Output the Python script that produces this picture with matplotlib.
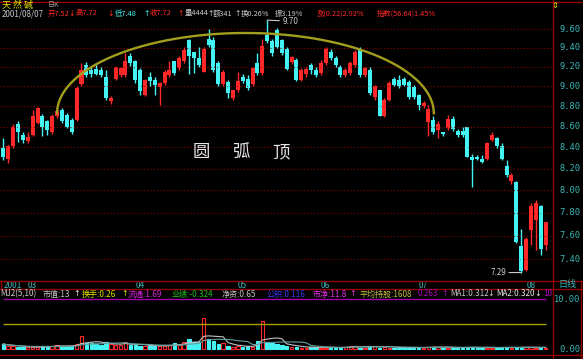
import numpy as np
import pandas as pd
import matplotlib
matplotlib.use('Agg')
import matplotlib.pyplot as plt
from matplotlib.lines import Line2D

plt.rcParams['font.family'] = ['Noto Sans CJK SC', 'DejaVu Sans']

###############################################################################
# data (daily candles, 2001-02 .. 2001-08-07)
opens = [8.39, 8.29, 8.41, 8.62, 8.52, 8.46, 8.52, 8.63, 8.70, 8.65,
         8.55, 8.70, 8.76, 8.71, 8.66, 8.66, 9.02, 9.22, 9.17, 9.18,
         9.17, 9.10, 8.85, 9.08, 9.12, 9.12, 9.31, 9.26, 9.17, 8.91,
         9.10, 9.06, 8.99, 9.03, 9.12, 9.26, 9.19, 9.26, 9.48, 9.36,
         9.29, 9.15, 9.50, 9.48, 9.24, 9.02, 9.04, 8.88, 8.96, 9.10,
         9.08, 9.02, 9.24, 9.14, 9.54, 9.47, 9.59, 9.48, 9.39, 9.25,
         9.27, 9.06, 9.13, 9.22, 9.17, 9.14, 9.24, 9.36, 9.29, 9.20,
         9.12, 9.14, 9.22, 9.39, 9.12, 9.17, 8.89, 8.96, 8.70, 8.86,
         9.08, 9.06, 9.08, 9.04, 8.99, 8.91, 8.80, 8.64, 8.66, 8.57,
         8.55, 8.59, 8.67, 8.56, 8.56, 8.60, 8.31, 8.31, 8.29, 8.29,
         8.47, 8.49, 8.41, 8.22, 8.09, 8.08, 7.51, 7.31, 7.65, 7.74,
         7.86, 7.52]
highs = [8.49, 8.42, 8.62, 8.65, 8.55, 8.55, 8.76, 8.79, 8.72, 8.66,
         8.72, 8.78, 8.78, 8.73, 8.68, 9.00, 9.24, 9.25, 9.20, 9.24,
         9.20, 9.17, 8.90, 9.20, 9.20, 9.35, 9.35, 9.27, 9.19, 9.08,
         9.15, 9.10, 9.04, 9.17, 9.26, 9.26, 9.31, 9.41, 9.50, 9.36,
         9.41, 9.41, 9.60, 9.52, 9.26, 9.17, 9.06, 8.96, 9.15, 9.13,
         9.12, 9.20, 9.35, 9.49, 9.70, 9.49, 9.61, 9.50, 9.41, 9.31,
         9.29, 9.19, 9.20, 9.24, 9.20, 9.27, 9.41, 9.39, 9.31, 9.22,
         9.19, 9.26, 9.38, 9.41, 9.20, 9.20, 9.01, 8.96, 8.88, 9.05,
         9.10, 9.12, 9.10, 9.06, 9.01, 8.92, 8.85, 8.81, 8.70, 8.65,
         8.55, 8.71, 8.70, 8.58, 8.60, 8.60, 8.34, 8.33, 8.33, 8.45,
         8.55, 8.50, 8.44, 8.28, 8.16, 8.09, 7.66, 7.59, 7.89, 7.91,
         7.87, 7.72]
lows = [8.28, 8.25, 8.39, 8.45, 8.44, 8.44, 8.51, 8.62, 8.51, 8.52,
        8.53, 8.68, 8.63, 8.59, 8.53, 8.65, 9.00, 9.10, 9.10, 9.12,
        9.10, 8.86, 8.82, 9.06, 9.10, 9.10, 9.21, 9.03, 8.91, 8.90,
        9.00, 8.91, 8.81, 9.01, 9.10, 9.12, 9.17, 9.24, 9.13, 9.14,
        9.20, 9.15, 9.41, 9.15, 9.00, 9.00, 8.88, 8.86, 8.94, 9.03,
        8.96, 9.00, 9.12, 9.12, 9.45, 9.31, 9.40, 9.33, 9.17, 9.23,
        9.05, 9.05, 9.10, 9.13, 9.10, 9.12, 9.22, 9.27, 9.20, 9.10,
        9.10, 9.12, 9.20, 9.10, 9.10, 8.91, 8.86, 8.70, 8.69, 8.85,
        9.00, 8.98, 9.00, 8.87, 8.87, 8.76, 8.78, 8.51, 8.53, 8.49,
        8.51, 8.57, 8.56, 8.50, 8.50, 8.31, 8.03, 8.28, 8.25, 8.28,
        8.46, 8.39, 8.28, 8.12, 8.06, 7.54, 7.29, 7.30, 7.52, 7.48,
        7.44, 7.48]
closes = [8.31, 8.41, 8.60, 8.55, 8.47, 8.50, 8.70, 8.78, 8.60, 8.57,
          8.70, 8.75, 8.65, 8.60, 8.55, 8.98, 9.17, 9.12, 9.13, 9.13,
          9.12, 8.88, 8.88, 9.20, 9.19, 9.26, 9.24, 9.06, 8.95, 9.06,
          9.05, 9.01, 9.03, 9.15, 9.17, 9.14, 9.29, 9.38, 9.31, 9.29,
          9.22, 9.39, 9.43, 9.17, 9.02, 9.15, 8.93, 8.96, 9.05, 9.05,
          8.98, 9.19, 9.14, 9.42, 9.47, 9.35, 9.41, 9.35, 9.18, 9.30,
          9.06, 9.17, 9.18, 9.17, 9.12, 9.24, 9.39, 9.29, 9.22, 9.12,
          9.17, 9.24, 9.36, 9.12, 9.19, 8.93, 9.00, 8.70, 8.86, 9.03,
          9.01, 9.00, 9.01, 8.89, 8.89, 8.81, 8.83, 8.77, 8.55, 8.62,
          8.53, 8.67, 8.58, 8.52, 8.52, 8.31, 8.28, 8.29, 8.26, 8.44,
          8.52, 8.41, 8.29, 8.14, 8.14, 7.55, 7.30, 7.57, 7.86, 7.89,
          7.49, 7.72]
# MJ2 turnover (%)
vols = [1.00, 0.67, 0.55, 0.40, 0.33, 0.33, 0.35, 0.50, 0.53, 0.53,
        0.65, 0.80, 0.55, 0.53, 0.65, 1.00, 2.70, 1.30, 1.20, 1.00,
        0.80, 1.45, 1.00, 0.80, 0.80, 1.45, 0.80, 0.80, 0.70, 0.65,
        0.55, 0.65, 0.65, 0.70, 0.80, 1.30, 0.80, 1.45, 2.00, 1.35,
        1.50, 6.30, 2.00, 1.67, 1.00, 1.20, 0.55, 0.50, 0.55, 0.50,
        0.55, 0.50, 1.67, 5.70, 1.47, 1.20, 1.00, 0.85, 0.67, 0.50,
        0.35, 0.30, 0.28, 0.40, 0.45, 0.28, 0.30, 0.30, 0.28, 0.30,
        0.45, 0.55, 0.65, 0.30, 0.30, 0.60, 0.65, 0.30, 0.45, 0.30,
        0.30, 0.25, 0.28, 0.30, 0.30, 0.28, 0.30, 0.45, 0.50, 0.40,
        0.30, 0.30, 0.28, 0.30, 0.25, 0.35, 0.45, 0.30, 0.28, 0.30,
        0.30, 0.28, 0.31, 0.36, 0.29, 0.33, 0.35, 0.45, 0.33, 0.25,
        0.27, 0.263]

price_grid = [7.40, 7.60, 7.80, 8.00, 8.20, 8.40, 8.60, 8.80, 9.00, 9.20, 9.40, 9.60]
month_labels = ['2001', '03', '04', '05', '06', '07', '08']
month_pos = [0, 5, 27, 48, 65, 85, 107]
vol_refs = [5, 10]
vol_labels = [10, 0]

# rounded-top arc drawn over the chart
arc_start, arc_end = 11.0, 88.1
arc_base, arc_top = 8.73, 9.56

###############################################################################
W, H = 583, 359
RED = '#ff2828'
CYAN = '#44f4f4'
GRID = '#8c0000'
TEAL = '#3cb8b8'
GRAY = '#c8c8c8'


def fx(x):
    return x / W


def fy(y):
    return 1 - y / H


fig = plt.figure(figsize=(W / 100, H / 100), dpi=100, facecolor='black')
ax = fig.add_axes([0, fy(281), fx(553), (281 - 3) / H])
axv = fig.add_axes([0, fy(355), fx(553), (355 - 289) / H])

n = len(closes)
x = np.arange(n)
o = np.array(opens)
c = np.array(closes)
up = c >= o
colors = np.where(up, RED, CYAN)

for a in (ax, axv):
    a.set_facecolor('black')
    for s in a.spines.values():
        s.set_visible(False)
    a.set_xlim(-0.68, n + 0.5)

ax.set_yscale('log')
ax.set_ylim(7.2207, 9.890)
axv.set_ylim(-1.2, 12)
for a in (ax, axv):
    a.tick_params(which='both', left=False, bottom=False,
                  labelleft=False, labelbottom=False)

# price grid + right labels
for lv in price_grid:
    ax.axhline(lv, color=GRID, lw=0.8, ls=(0, (1, 2)))
    ax.text(580 / 553, lv, '%.2f' % lv, transform=ax.get_yaxis_transform(),
            ha='right', va='center', color=TEAL, fontsize=6.3,
            family='DejaVu Sans Mono', clip_on=False)

# candles
ax.vlines(x, lows, highs, colors=colors, lw=1)
body_h = np.maximum(np.abs(c - o), 0.012)
ax.bar(x, body_h, bottom=np.minimum(o, c), width=0.82, color=colors, linewidth=0)

# arc
t = np.linspace(np.pi, 0, 200)
xs = (arc_start + arc_end) / 2 + (arc_end - arc_start) / 2 * np.cos(t)
ys = np.exp(np.log(arc_base) + np.log(arc_top / arc_base) * np.sin(t))
ax.plot(xs, ys, color='#a29e1e', lw=1.7)

# high / low markers
i_hi = int(np.argmax(highs))
i_lo = int(np.argmin(lows))
ax.annotate('%.2f' % highs[i_hi], xy=(i_hi, highs[i_hi]), xytext=(15, -1),
            textcoords='offset pixels', ha='left', va='center', color=GRAY,
            fontsize=5.8, arrowprops=dict(arrowstyle='-', color=GRAY, lw=0.8,
                                          shrinkA=0, shrinkB=0))
ax.annotate('%.2f' % lows[i_lo], xy=(i_lo, lows[i_lo]), xytext=(-15, 0),
            textcoords='offset pixels', ha='right', va='center', color=GRAY,
            fontsize=5.8, arrowprops=dict(arrowstyle='-', color=GRAY, lw=0.8,
                                          shrinkA=0, shrinkB=0))

for px, ch in [(201.5, '圆'), (241, '弧'), (280.5, '顶')]:
    fig.text(fx(px), fy(152), ch, color='#e6e6e6', fontsize=12.5,
             ha='center', va='center')

# month labels in the date strip
for lab, pos in zip(month_labels, month_pos):
    ax.text(pos, -4 / 278, lab, transform=ax.get_xaxis_transform(),
            ha='left', va='center', color=TEAL, fontsize=6, clip_on=False)
fig.text(fx(567), fy(285), '日线', color=TEAL, fontsize=6.5,
         ha='center', va='center')

# volume (turnover) panel
axv.bar(x, vols, width=0.7, facecolor=np.where(up, 'black', CYAN),
        edgecolor=colors, linewidth=0.8)
vs = pd.Series(vols)
axv.plot(x, vs.rolling(5, min_periods=1).mean(), color='#c0c0c0', lw=0.8)
axv.plot(x, vs.rolling(10, min_periods=1).mean(), color='#5f9f9f', lw=0.8)
axv.hlines(vol_refs, 0, n - 1, colors=['#a8a000', '#a000a8'], lw=1)
for v in vol_labels:
    axv.text(580 / 553, v, '%.2f' % v, transform=axv.get_yaxis_transform(),
             ha='right', va='center', color=TEAL, fontsize=6.3,
             family='DejaVu Sans Mono', clip_on=False)

# frame lines
frame = [((0, 583), (2, 2)), ((0, 583), (281, 281)), ((0, 583), (289, 289)),
         ((0, 583), (355, 355)), ((553, 553), (0, 359)),
         ((581, 581), (281, 359)), ((1, 1), (281, 289))]
for (x0, x1), (y0, y1) in frame:
    fig.add_artist(Line2D([fx(x0), fx(x1)], [fy(y0), fy(y1)],
                          transform=fig.transFigure, color='#900000', lw=1))

# header lines
fig.text(fx(2), fy(5), '天 然 碱', color='#e8e800', fontsize=6.5, va='center')
fig.text(fx(48), fy(5), '日K', color='#a0a0a0', fontsize=5, va='center')
fig.text(fx(555), fy(5), '⇕', color='#e8e800', fontsize=6, ha='center',
         va='center', family='DejaVu Sans')
top_row = [(2, '2001/08/07', GRAY), (48, '开7.52', RED), (76, '高7.72', RED),
           (115, '低7.48', CYAN), (150, '收7.72', RED), (185, '量4444', GRAY),
           (213, '额341', GRAY), (241, '换0.26%', GRAY), (275, '振3.19%', GRAY),
           (317, '涨(0.22)2.92%', RED), (377, '指数(56.64)1.45%', RED)]
top_arrows = [(72, '↓', RED), (111, '↓', RED), (147, '↑', CYAN),
              (181, '↑', RED), (211, '↑', GRAY), (237.5, '↑', GRAY)]
for px, s, col in top_row:
    fig.text(fx(px), fy(13.5), s, color=col,
             fontsize=5.8 if px == 2 else 5.3, va='center')
for px, s, col in top_arrows:
    fig.text(fx(px), fy(13.5), s, color=col, fontsize=5.5, va='center',
             ha='center', family='DejaVu Sans')

vol_row = [(0, 'MJ2(5,10)', '#d0d0d0'), (43, '市值:13', GRAY),
           (82, '换手:0.26', '#e0e000'), (128, '流通:1.69', '#e020e0'),
           (172, '业绩:-0.324', '#20c020'), (222, '净资:0.65', GRAY),
           (267, '公积:0.116', '#3a3aff'), (313, '市净:11.8', '#f030f0'),
           (360, '平均持股:1608', '#c0c040'), (418, '0.263', '#b000c0'),
           (450, 'MA1:0.312', GRAY), (496, 'MA2:0.320', '#e8e8e8'),
           (543, '10', '#c000c0')]
vol_arrows = [(77, '↑', '#e8e8e8'), (125, '↑', '#e0e000'), (353, '↑', '#f030f0'),
              (445, '↑', '#b000c0'), (491, '↓', GRAY), (538, '↓', '#e8e8e8')]
for px, s, col in vol_row:
    fig.text(fx(px), fy(294), s, color=col, fontsize=5.8, va='center')
for px, s, col in vol_arrows:
    fig.text(fx(px), fy(294), s, color=col, fontsize=5.8, va='center',
             ha='center', family='DejaVu Sans')

fig.savefig('out.png', dpi=100, facecolor='black')
